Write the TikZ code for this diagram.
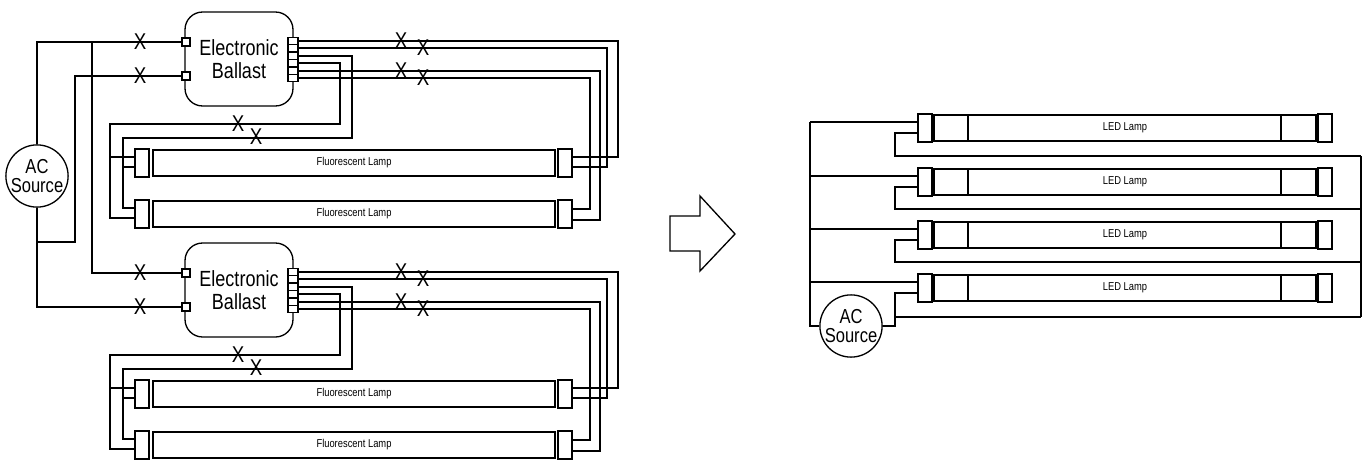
\documentclass[tikz,border=0pt]{standalone}
\usepackage{fontspec}
\setmainfont{Liberation Sans}[FakeStretch=0.82]
\usetikzlibrary{positioning}
\begin{document}
\begin{tikzpicture}[x=0.02cm, y=-0.02cm, line width=0.75pt,
    every node/.style = {inner sep=0pt, align=center},
    ballast/.style = {draw, rounded corners=10pt, minimum width=2.16cm, minimum height=1.88cm,
                      font=\fontsize{12.5}{13}\selectfont},
    term/.style = {draw, fill=white, minimum width=0.16cm, minimum height=0.16cm},
    outp/.style = {draw, fill=white, minimum width=0.2cm, minimum height=0.148cm},
    tube/.style = {draw, minimum height=0.52cm, font=\fontsize{6.5}{7}\selectfont},
    lampcap/.style = {draw, fill=white, minimum width=0.28cm, minimum height=0.56cm},
    source/.style = {draw, circle, minimum size=1.22cm, font=\fontsize{11.5}{11}\selectfont},
    xmark/.style = {font=\fontsize{13}{13}\selectfont}
]
\useasboundingbox (0,0) rectangle (1371,463);

% ---- left: fluorescent groups
\foreach \o/\k in {0/1, 231/2} {
    \node[ballast] (bal\k) at (239,59+\o) {Electronic\\Ballast};
    \node[term] (in\k1) at (186,42+\o) {};
    \node[term] (in\k2) at (186,76+\o) {};
    \foreach \j/\yy in {1/41, 2/48, 3/56, 4/63, 5/71, 6/78}
        \node[outp] (o\k\j) at (293,\yy+\o) {};
    \node[tube, minimum width=8.04cm] (lu\k) at (354,163+\o) {Fluorescent Lamp};
    \node[tube, minimum width=8.04cm] (ld\k) at (354,214+\o) {Fluorescent Lamp};
    \node[lampcap] (lua\k) at (142,163+\o) {};
    \node[lampcap] (lub\k) at (565,163+\o) {};
    \node[lampcap] (lda\k) at (142,214+\o) {};
    \node[lampcap] (ldb\k) at (565,214+\o) {};
    % wires to the right ends
    \draw (o\k1.east) -| (618,157+\o) -- (lub\k.east |- 0,157+\o);
    \draw (o\k2.east) -| (607,167+\o) -- (lub\k.east |- 0,167+\o);
    \draw (o\k5.east) -| (600,220+\o) -- (ldb\k.east |- 0,220+\o);
    \draw (o\k6.east) -| (590,209+\o) -- (ldb\k.east |- 0,209+\o);
    % wires to the left ends
    \draw (o\k3.east) -| (352,138+\o) -| (123,208+\o) -- (lda\k.west |- 0,208+\o);
    \draw (123,167+\o) -- (lua\k.west |- 0,167+\o);
    \draw (o\k4.east) -| (340,124+\o) -| (110,218+\o) -- (lda\k.west |- 0,218+\o);
    \draw (110,157+\o) -- (lua\k.west |- 0,157+\o);
    % cut marks
    \foreach \xx/\yy in {401/41, 423/48, 401/71, 423/78, 238/124, 256/137, 140/42, 140/76}
        \node[xmark] at (\xx,\yy+\o) {X};
}
\node[source] (ac) at (37,176) {AC\\Source};
\draw (ac.north) |- (in11.west);
\draw (92,42) |- (in21.west);
\draw (in12.west) -| (75,242) -| (ac.south);
\draw (ac.south) |- (in22.west);

% ---- arrow
\draw (670,216) -- (700,216) -- (700,196) -- (735,234) -- (700,271) -- (700,251) -- (670,251) -- cycle;

% ---- right: LED lamps
\foreach \c/\r/\k in {128/156/1, 182/209/2, 235/262/3, 288/317/4} {
    \node[tube, minimum width=7.64cm] (led\k) at (1125,\c) {LED Lamp};
    \draw (968,\c-13) -- (968,\c+13) (1281,\c-13) -- (1281,\c+13);
    \node[lampcap] (ca\k) at (925,\c) {};
    \node[lampcap] (cb\k) at (1325,\c) {};
    \draw (810,\c-6) -- (ca\k.west |- 0,\c-6);
    \draw (ca\k.west |- 0,\c+5) -| (895,\r) -- (1361,\r);
}
\node[source] (acr) at (851,326) {AC\\Source};
\draw (810,122) -- (810,326) -- (acr.west);
\draw (acr.east) -- (895,326) -- (895,317);
\draw (1361,156) -- (1361,317);
\end{tikzpicture}
\end{document}
